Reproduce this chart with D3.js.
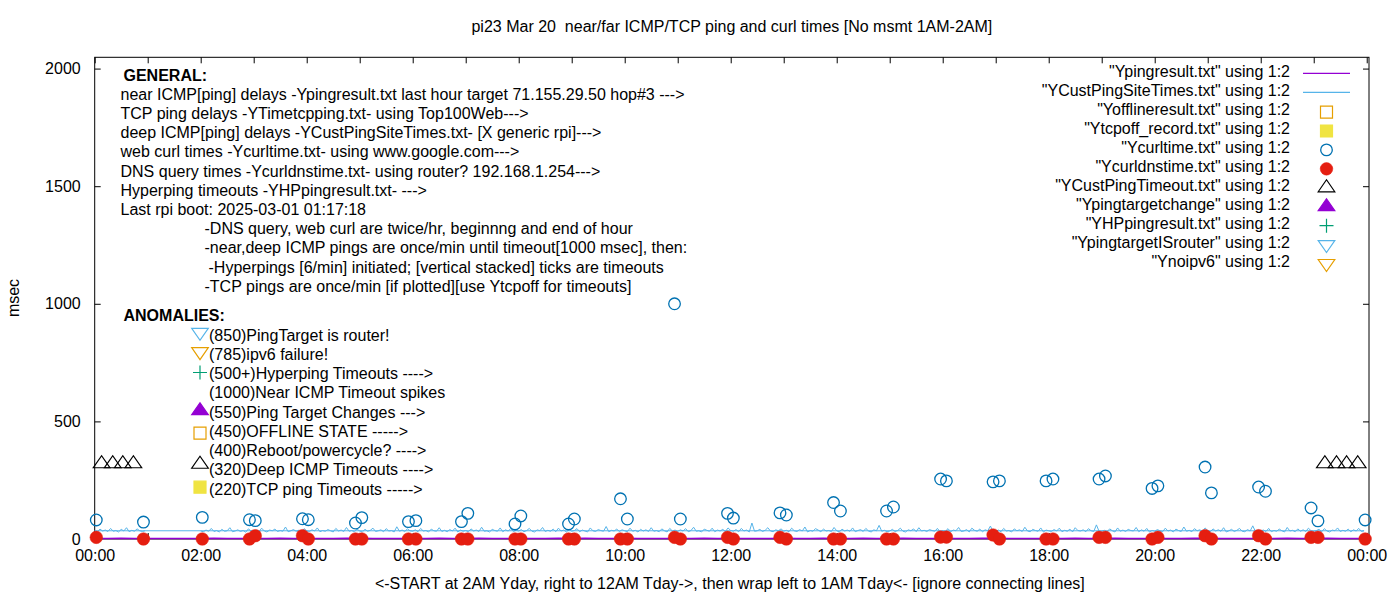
<!DOCTYPE html>
<html><head><meta charset="utf-8">
<script src="https://cdn.jsdelivr.net/npm/d3@7"></script>
<style>
body{margin:0;background:#fff;}
svg{display:block;font-family:"Liberation Sans",Arial,sans-serif;}
svg text{white-space:pre;}
</style></head><body>
<svg id="chart" width="1400" height="600"></svg>
<script>
// ================= DATA =================
const titleText = "pi23 Mar 20  near/far ICMP/TCP ping and curl times [No msmt 1AM-2AM]";
const xLabelText = "<-START at 2AM Yday, right to 12AM Tday->, then wrap left to 1AM Tday<- [ignore connecting lines]";
const yLabelText = "msec";
const yTickValues = [0, 500, 1000, 1500, 2000];
const xTickHours = [0,1,2,3,4,5,6,7,8,9,10,11,12,13,14,15,16,17,18,19,20,21,22,23,24];
const xLabelHours = [0,2,4,6,8,10,12,14,16,18,20,22,24];

// near ICMP ping (Ypingresult.txt): 15-min samples, 02:00 -> 24:00, then wraps to 00:00 -> 00:45
const pingDayStartHour = 2, pingNightStartHour = 0, pingStepMin = 15;
const pingDayMs = [
  2,3,2,2, 2,2,3,2, 2,2,2,3, 3,2,2,2, 2,2,3,2, 2,3,2,2, 2,2,2,3, 2,3,2,2,
  3,2,2,2, 2,2,3,2, 2,2,2,2, 3,2,2,3, 2,2,3,2, 2,3,2,2, 2,2,2,3, 3,2,2,2,
  2,2,3,2, 2,3,2,2, 2,2,2,3, 3,2,2,2, 2,2,3,2, 2,3,2,2, 2
];
const pingNightMs = [2,2,3,2];

// deep ICMP ping (YCustPingSiteTimes.txt): 3-min samples, one row per hour
const custStepMin = 3;
const custDayStartHour = 2;   // rows: 02h .. 23h
const custDayMs = [
  [34,31,38,33,45,32,36,30,41,33,35,48,31,34,39,32,36,29,43,34],
  [33,37,31,46,34,30,38,35,42,32,36,33,51,31,35,40,33,37,30,44],
  [35,32,39,34,47,31,36,33,40,35,30,45,34,38,32,49,33,36,31,42],
  [34,30,41,33,37,46,32,35,39,31,44,34,36,30,52,33,38,32,43,35],
  [33,39,31,45,34,36,30,42,35,33,48,32,37,31,40,34,46,30,38,33],
  [36,31,43,34,38,32,50,33,35,30,41,36,33,47,31,39,34,44,32,37],
  [34,40,31,36,45,33,30,39,35,49,32,37,33,42,31,46,34,38,30,41],
  [33,36,44,31,38,34,30,47,35,32,40,36,33,53,31,37,34,42,32,39],
  [35,31,46,33,37,30,41,34,39,32,48,33,36,31,43,35,30,45,34,38],
  [32,39,34,44,31,36,50,33,35,30,42,37,33,46,31,38,34,41,32,47],
  [36,33,40,31,45,34,38,30,68,33,35,41,32,37,48,34,31,39,35,43],
  [33,37,31,46,35,32,40,34,51,30,36,33,44,38,31,42,34,36,32,49],
  [35,30,42,34,38,33,47,31,36,40,32,45,34,30,39,35,58,33,37,31],
  [34,41,32,36,46,33,30,39,35,43,31,48,34,37,32,40,36,33,45,31],
  [36,33,44,31,38,35,49,32,34,40,30,46,37,33,42,31,39,35,55,32],
  [33,38,31,45,34,36,30,43,35,39,32,50,34,31,41,36,33,47,30,38],
  [35,32,40,34,46,31,37,33,42,30,48,36,34,39,31,44,35,32,60,33],
  [34,37,31,43,35,30,47,33,38,32,41,36,34,49,31,39,33,45,30,36],
  [33,40,35,31,46,34,38,30,42,36,32,51,33,37,31,44,35,39,32,47],
  [36,31,43,34,39,33,48,30,35,41,32,37,45,33,31,40,34,56,32,38],
  [34,38,32,45,31,36,33,42,35,30,49,34,37,31,43,33,39,32,46,35],
  [33,36,41,31,44,34,30,38,35,47,32,37,33,42,31,39,34,45,32,35]
];
const custNightStartHour = 0;  // row: 00h
const custNightMs = [
  [35,31,42,34,38,32,45,33,36,30,41,34,48,31,37,33,43,35,32,35]
];

// web curl (Ycurltime.txt) and DNS query (Ycurldnstime.txt) times, same sample instants (hours)
const curlHours = [0.03,0.92,2.03,2.92,3.03,3.92,4.03,4.92,5.04,5.92,6.06,6.92,7.04,7.93,8.04,
  8.94,9.05,9.92,10.05,10.94,11.05,11.94,12.05,12.93,13.05,13.94,14.07,14.94,15.07,15.96,16.07,
  16.95,17.07,17.95,18.08,18.95,19.07,19.95,20.06,20.95,21.07,21.96,22.09,22.95,23.08,23.97];
const curlMs = [81,72,92,82,78,86,82,68,91,74,78,74,109,64,98,
  64,85,171,85,1000,85,109,89,111,102,155,119,119,136,255,247,
  243,247,247,255,255,268,215,226,306,196,221,203,132,77,81];
const dnsMs = [7,0,0,0,14,14,0,0,0,0,0,0,0,0,0,
  0,0,0,0,7,0,7,0,7,0,0,0,0,0,8,8,
  17,0,0,0,7,7,0,7,14,0,14,0,7,7,0];

// deep ICMP timeouts (YCustPingTimeout.txt)
const timeoutHours = [0.13,0.34,0.53,0.73,23.21,23.43,23.62,23.83];
const timeoutMs = [320,320,320,320,320,320,320,320];

// legend
const legendNames = ['"Ypingresult.txt" using 1:2','"YCustPingSiteTimes.txt" using 1:2','"Yofflineresult.txt" using 1:2',
  '"Ytcpoff_record.txt" using 1:2','"Ycurltime.txt" using 1:2','"Ycurldnstime.txt" using 1:2',
  '"YCustPingTimeout.txt" using 1:2','"Ypingtargetchange" using 1:2','"YHPpingresult.txt" using 1:2',
  '"YpingtargetISrouter" using 1:2','"Ynoipv6" using 1:2'];
const legendKinds = ['line','line','square','square','circle','circle','triUp','triUp','plus','triDown','triDown'];
const legendColors = ['#9400d3','#56b4e9','#e69f00','#f0e442','#0072b2','#e51e10','#000000','#9400d3','#009e73','#56b4e9','#e69f00'];
const legendFilled = [false,false,false,true,false,true,false,true,false,false,false];

// annotation texts
const generalLines = [
  "GENERAL:",
  "near ICMP[ping] delays -Ypingresult.txt last hour target 71.155.29.50 hop#3 --->",
  "TCP ping delays -YTimetcpping.txt- using Top100Web--->",
  "deep ICMP[ping] delays -YCustPingSiteTimes.txt- [X generic rpi]--->",
  "web curl times -Ycurltime.txt- using www.google.com--->",
  "DNS query times -Ycurldnstime.txt- using router? 192.168.1.254--->",
  "Hyperping timeouts -YHPpingresult.txt- --->",
  "Last rpi boot: 2025-03-01 01:17:18",
  "-DNS query, web curl are twice/hr, beginnng and end of hour",
  "-near,deep ICMP pings are once/min until timeout[1000 msec], then:",
  "-Hyperpings [6/min] initiated; [vertical stacked] ticks are timeouts",
  "-TCP pings are once/min [if plotted][use Ytcpoff for timeouts]"
];
const generalIndent = [0,1,1,1,1,1,1,1,2,2,3,2];
const anomalyHeader = "ANOMALIES:";
const anomalyTexts = ["(850)PingTarget is router!","(785)ipv6 failure!","(500+)Hyperping Timeouts ---->",
  "(1000)Near ICMP Timeout spikes","(550)Ping Target Changes --->","(450)OFFLINE STATE ----->",
  "(400)Reboot/powercycle? ---->","(320)Deep ICMP Timeouts ---->","(220)TCP ping Timeouts ----->"];
const anomalyKinds = ['triDown','triDown','plus',null,'triUp','square',null,'triUp','square'];
const anomalyColors = ['#56b4e9','#e69f00','#009e73',null,'#9400d3','#e69f00',null,'#000000','#f0e442'];
const anomalyFilled = [false,false,false,false,true,false,false,false,true];

// ================= LAYOUT =================
const M = {l:94.7, r:1369, t:57.3, b:539};
const FS = 16;
const svg = d3.select('#chart');
const x = d3.scaleLinear().domain([0, 24.043]).range([M.l, M.r]);
const y = d3.scaleLinear().domain([0, 2048]).range([M.b, M.t]);

// symbol shapes (relative to point)
function symPath(kind){
  switch(kind){
    case 'triUp': return 'M-8.3,4L8.3,4L0,-8Z';
    case 'triDown': return 'M-8.3,-4L8.3,-4L0,8Z';
    case 'square': return 'M-6,-6H6V6H-6Z';
    case 'plus': return 'M-7,0H7M0,-7V7';
  }
  return '';
}
function drawSym(g, kind, color, filled, cx, cy){
  if(kind==='circle'){
    g.append('circle').attr('cx',cx).attr('cy',cy).attr('r', filled?6.3:5.8)
      .attr('fill', filled?color:'none').attr('stroke', color).attr('stroke-width', filled?0.5:1.3);
  } else {
    g.append('path').attr('d', symPath(kind)).attr('transform',`translate(${cx},${cy})`)
      .attr('fill', filled?color:'none').attr('stroke', color).attr('stroke-width',1.2)
      .attr('stroke-linejoin','miter');
  }
}

// frame
svg.append('rect').attr('x',M.l).attr('y',M.t).attr('width',M.r-M.l).attr('height',M.b-M.t)
  .attr('fill','none').attr('stroke','#000').attr('stroke-width',1);

const fmtHour = h => xLabelHours.includes(h) ? String(h%24).padStart(2,'0')+':00' : '';
function styleAxis(g){
  g.select('.domain').remove();
  g.selectAll('line').attr('stroke','#000');
  g.selectAll('text').attr('font-size',FS).attr('font-family','"Liberation Sans",Arial,sans-serif').attr('fill','#000');
}
svg.append('g').attr('transform',`translate(0,${M.b})`)
  .call(d3.axisBottom(x).tickValues(xTickHours).tickSize(-6).tickPadding(11).tickFormat(fmtHour)).call(styleAxis);
svg.append('g').attr('transform',`translate(0,${M.t})`)
  .call(d3.axisTop(x).tickValues(xTickHours).tickSize(-6).tickFormat('')).call(styleAxis);
svg.append('g').attr('transform',`translate(${M.l},0)`)
  .call(d3.axisLeft(y).tickValues(yTickValues).tickSize(-6).tickPadding(14).tickFormat(d3.format('d'))).call(styleAxis);
svg.append('g').attr('transform',`translate(${M.r},0)`)
  .call(d3.axisRight(y).tickValues(yTickValues).tickSize(-6).tickFormat('')).call(styleAxis);

// titles
svg.append('text').attr('x',(M.l+M.r)/2).attr('y',26).attr('dy','0.35em').attr('text-anchor','middle')
  .attr('font-size',FS).text(titleText);
svg.append('text').attr('x',(M.l+M.r)/2 - 2).attr('y',583).attr('dy','0.35em').attr('text-anchor','middle')
  .attr('font-size',FS).text(xLabelText);
svg.append('text').attr('transform','translate(13,298) rotate(-90)').attr('dy','0.35em').attr('text-anchor','middle')
  .attr('font-size',FS).text(yLabelText);

// general annotation block
const indentX = [123.5, 120.5, 204.5, 208.5];
const gen = svg.append('g').attr('font-size',FS);
generalLines.forEach((t,i)=>{
  gen.append('text').attr('x', indentX[generalIndent[i]]).attr('y', 75 + i*19.2).attr('dy','0.35em')
    .attr('font-weight', i===0?'bold':'normal').text(t);
});
const an = svg.append('g').attr('font-size',FS);
an.append('text').attr('x',123.5).attr('y',315).attr('dy','0.35em').attr('font-weight','bold').text(anomalyHeader);
const anomalySymOffset = [-2.7,-2.6,-1,0,-1.3,1.8,0,-5.5,-1.8];
anomalyTexts.forEach((t,i)=>{
  const cy = 335 + i*19.25;
  an.append('text').attr('x',209).attr('y',cy).attr('dy','0.35em').text(t);
  if(anomalyKinds[i]) drawSym(an, anomalyKinds[i], anomalyColors[i], anomalyFilled[i], 200, cy + anomalySymOffset[i]);
});

// ================= SERIES =================
const pingPts = pingDayMs.map((v,i)=>({t: pingDayStartHour + i*pingStepMin/60, v}))
  .concat(pingNightMs.map((v,i)=>({t: pingNightStartHour + i*pingStepMin/60, v})));
const custPts = [];
custDayMs.forEach((row,h)=>row.forEach((v,j)=>custPts.push({t: custDayStartHour + h + j*custStepMin/60, v})));
custNightMs.forEach((row,h)=>row.forEach((v,j)=>custPts.push({t: custNightStartHour + h + j*custStepMin/60, v})));

const line = d3.line().x(d=>x(d.t)).y(d=>y(d.v));
const plot = svg.append('g');
plot.append('path').datum(pingPts).attr('d',line).attr('fill','none').attr('stroke','#9400d3').attr('stroke-width',1.6);
plot.append('path').datum(custPts).attr('d',line).attr('fill','none').attr('stroke','#56b4e9').attr('stroke-width',1);

curlHours.forEach((t,i)=>drawSym(plot,'circle','#0072b2',false,x(t),y(curlMs[i])));
curlHours.forEach((t,i)=>drawSym(plot,'circle','#e51e10',true,x(t),y(dnsMs[i])));
timeoutHours.forEach((t,i)=>drawSym(plot,'triUp','#000000',false,x(t),y(timeoutMs[i])));

// ================= LEGEND =================
const lg = svg.append('g').attr('font-size',FS);
legendNames.forEach((name,i)=>{
  const ry = 71.7 + i*18.93;
  lg.append('text').attr('x',1290).attr('y',ry).attr('dy','0.35em').attr('text-anchor','end').text(name);
  if(legendKinds[i]==='line'){
    lg.append('line').attr('x1',1303).attr('x2',1350).attr('y1',ry+1.7).attr('y2',ry+1.7)
      .attr('stroke',legendColors[i]).attr('stroke-width',1.2);
  } else {
    drawSym(lg, legendKinds[i], legendColors[i], legendFilled[i], 1326.5, ry+2.5);
  }
});
</script>
</body></html>
